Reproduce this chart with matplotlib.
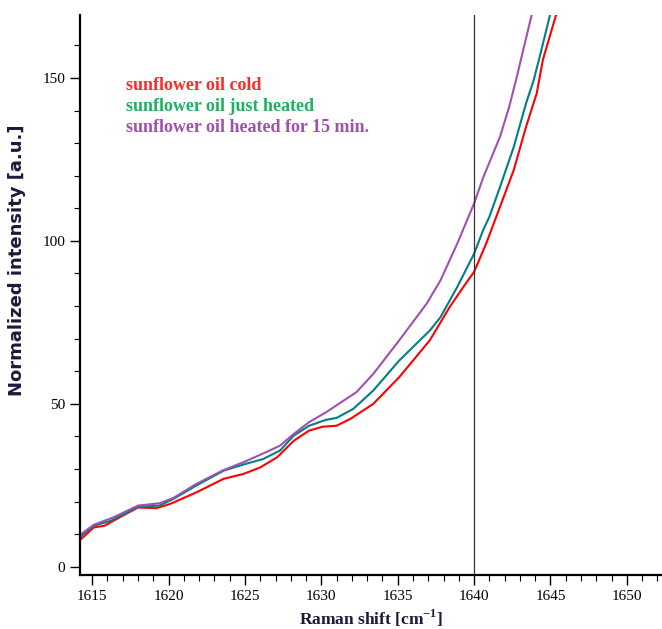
import matplotlib
matplotlib.use("Agg")
import matplotlib.pyplot as plt
from matplotlib.ticker import MultipleLocator

# Raman spectra (shift in cm-1, normalized intensity)
cold_x = [1614.2, 1615.1, 1615.8, 1616.8, 1618.0, 1619.2, 1620.1, 1621.8, 1623.6, 1624.9,
          1626.0, 1627.1, 1628.2, 1629.2, 1630.1, 1631.0, 1631.9, 1633.4, 1635.1, 1637.1,
          1638.4, 1639.3, 1640.0, 1640.8, 1641.7, 1642.6, 1643.4, 1644.1, 1644.5, 1645.4]
cold_y = [8.2, 12.1, 12.6, 15.2, 18.2, 18.0, 19.3, 22.8, 27.0, 28.5,
          30.5, 33.6, 38.7, 41.8, 43.0, 43.3, 45.4, 50.0, 58.2, 69.5,
          79.7, 85.9, 90.5, 99.3, 110.5, 121.8, 135.0, 145.3, 155.5, 169.9]

hot_x = [1614.2, 1615.1, 1616.2, 1618.0, 1619.4, 1620.3, 1621.8, 1623.6, 1624.9, 1626.2,
         1627.3, 1628.2, 1629.2, 1630.3, 1631.0, 1632.1, 1633.4, 1635.1, 1637.1, 1637.8,
         1638.9, 1640.0, 1640.6, 1641.0, 1641.7, 1642.6, 1643.4, 1643.9, 1644.3, 1645.0]
hot_y = [9.2, 12.6, 14.1, 18.4, 18.8, 20.8, 24.9, 29.5, 31.4, 33.1,
         35.7, 40.3, 43.3, 45.1, 45.7, 48.5, 54.1, 63.3, 72.5, 76.6,
         85.9, 96.1, 103.4, 107.4, 116.6, 128.9, 142.2, 149.3, 156.6, 169.9]

h15_x = [1614.2, 1615.1, 1616.4, 1618.0, 1619.4, 1620.3, 1621.8, 1623.6, 1624.9, 1626.2,
         1627.3, 1628.2, 1629.2, 1630.3, 1631.2, 1632.3, 1633.4, 1635.1, 1636.9, 1637.8,
         1638.9, 1640.0, 1640.6, 1641.7, 1642.3, 1642.8, 1643.2, 1643.8]
h15_y = [9.8, 12.9, 15.2, 18.8, 19.5, 21.1, 25.4, 29.7, 32.1, 34.8,
         37.2, 40.8, 44.4, 47.4, 50.2, 53.6, 59.2, 69.5, 80.8, 87.9,
         99.2, 111.5, 119.5, 132.0, 141.2, 150.4, 158.3, 169.9]

labels = ["sunflower oil cold", "sunflower oil just heated", "sunflower oil heated for 15 min."]
label_colors = ["#ff2a2a", "#1fb060", "#a050b0"]
line_colors = ["#ff0000", "#008080", "#a050b0"]
marker_x = 1640

fig = plt.figure(figsize=(6.62, 6.29), dpi=100)
ax = fig.add_axes([80 / 662, 54 / 629, 582 / 662, 560 / 629])

ax.plot(cold_x, cold_y, color=line_colors[0], lw=1.5)
ax.plot(hot_x, hot_y, color=line_colors[1], lw=1.5)
ax.plot(h15_x, h15_y, color=line_colors[2], lw=1.5)
ax.axvline(marker_x, color="#333333", lw=0.9)

ax.set_xlim(1614.2, 1652.3)
ax.set_ylim(-2.5, 169.3)

# Axes look
for s in ["top", "right"]:
    ax.spines[s].set_visible(False)
for s in ["left", "bottom"]:
    ax.spines[s].set_linewidth(1.6)
ax.xaxis.set_major_locator(MultipleLocator(5))
ax.xaxis.set_minor_locator(MultipleLocator(1))
ax.yaxis.set_major_locator(MultipleLocator(50))
ax.yaxis.set_minor_locator(MultipleLocator(10))
ax.tick_params(which="major", direction="out", length=7, width=1.0)
ax.tick_params(which="minor", direction="out", length=4, width=0.8)
for lab in ax.get_xticklabels() + ax.get_yticklabels():
    lab.set_family("Liberation Serif")
    lab.set_fontsize(11)

ax.set_xlabel("Raman shift [cm$^{\\mathregular{-1}}$]", family="Liberation Serif",
              fontweight="bold", fontsize=12.5, color="#1a1a3a", labelpad=4)
ax.set_ylabel("Normalized intensity [a.u.]", family="DejaVu Sans", fontweight="bold",
              fontsize=13, color="#1a1a3a")
ax.yaxis.set_label_coords(-0.092, 0.5625)

# Coloured text legend (pixel positions from the top-left corner)
for i, (t, c) in enumerate(zip(labels, label_colors)):
    fig.text(126 / 662, 1 - (85 + 21.5 * i) / 629, t, color=c,
             family="Liberation Serif", fontweight="bold", fontsize=13, va="center")

plt.savefig("out.png", dpi=100)
